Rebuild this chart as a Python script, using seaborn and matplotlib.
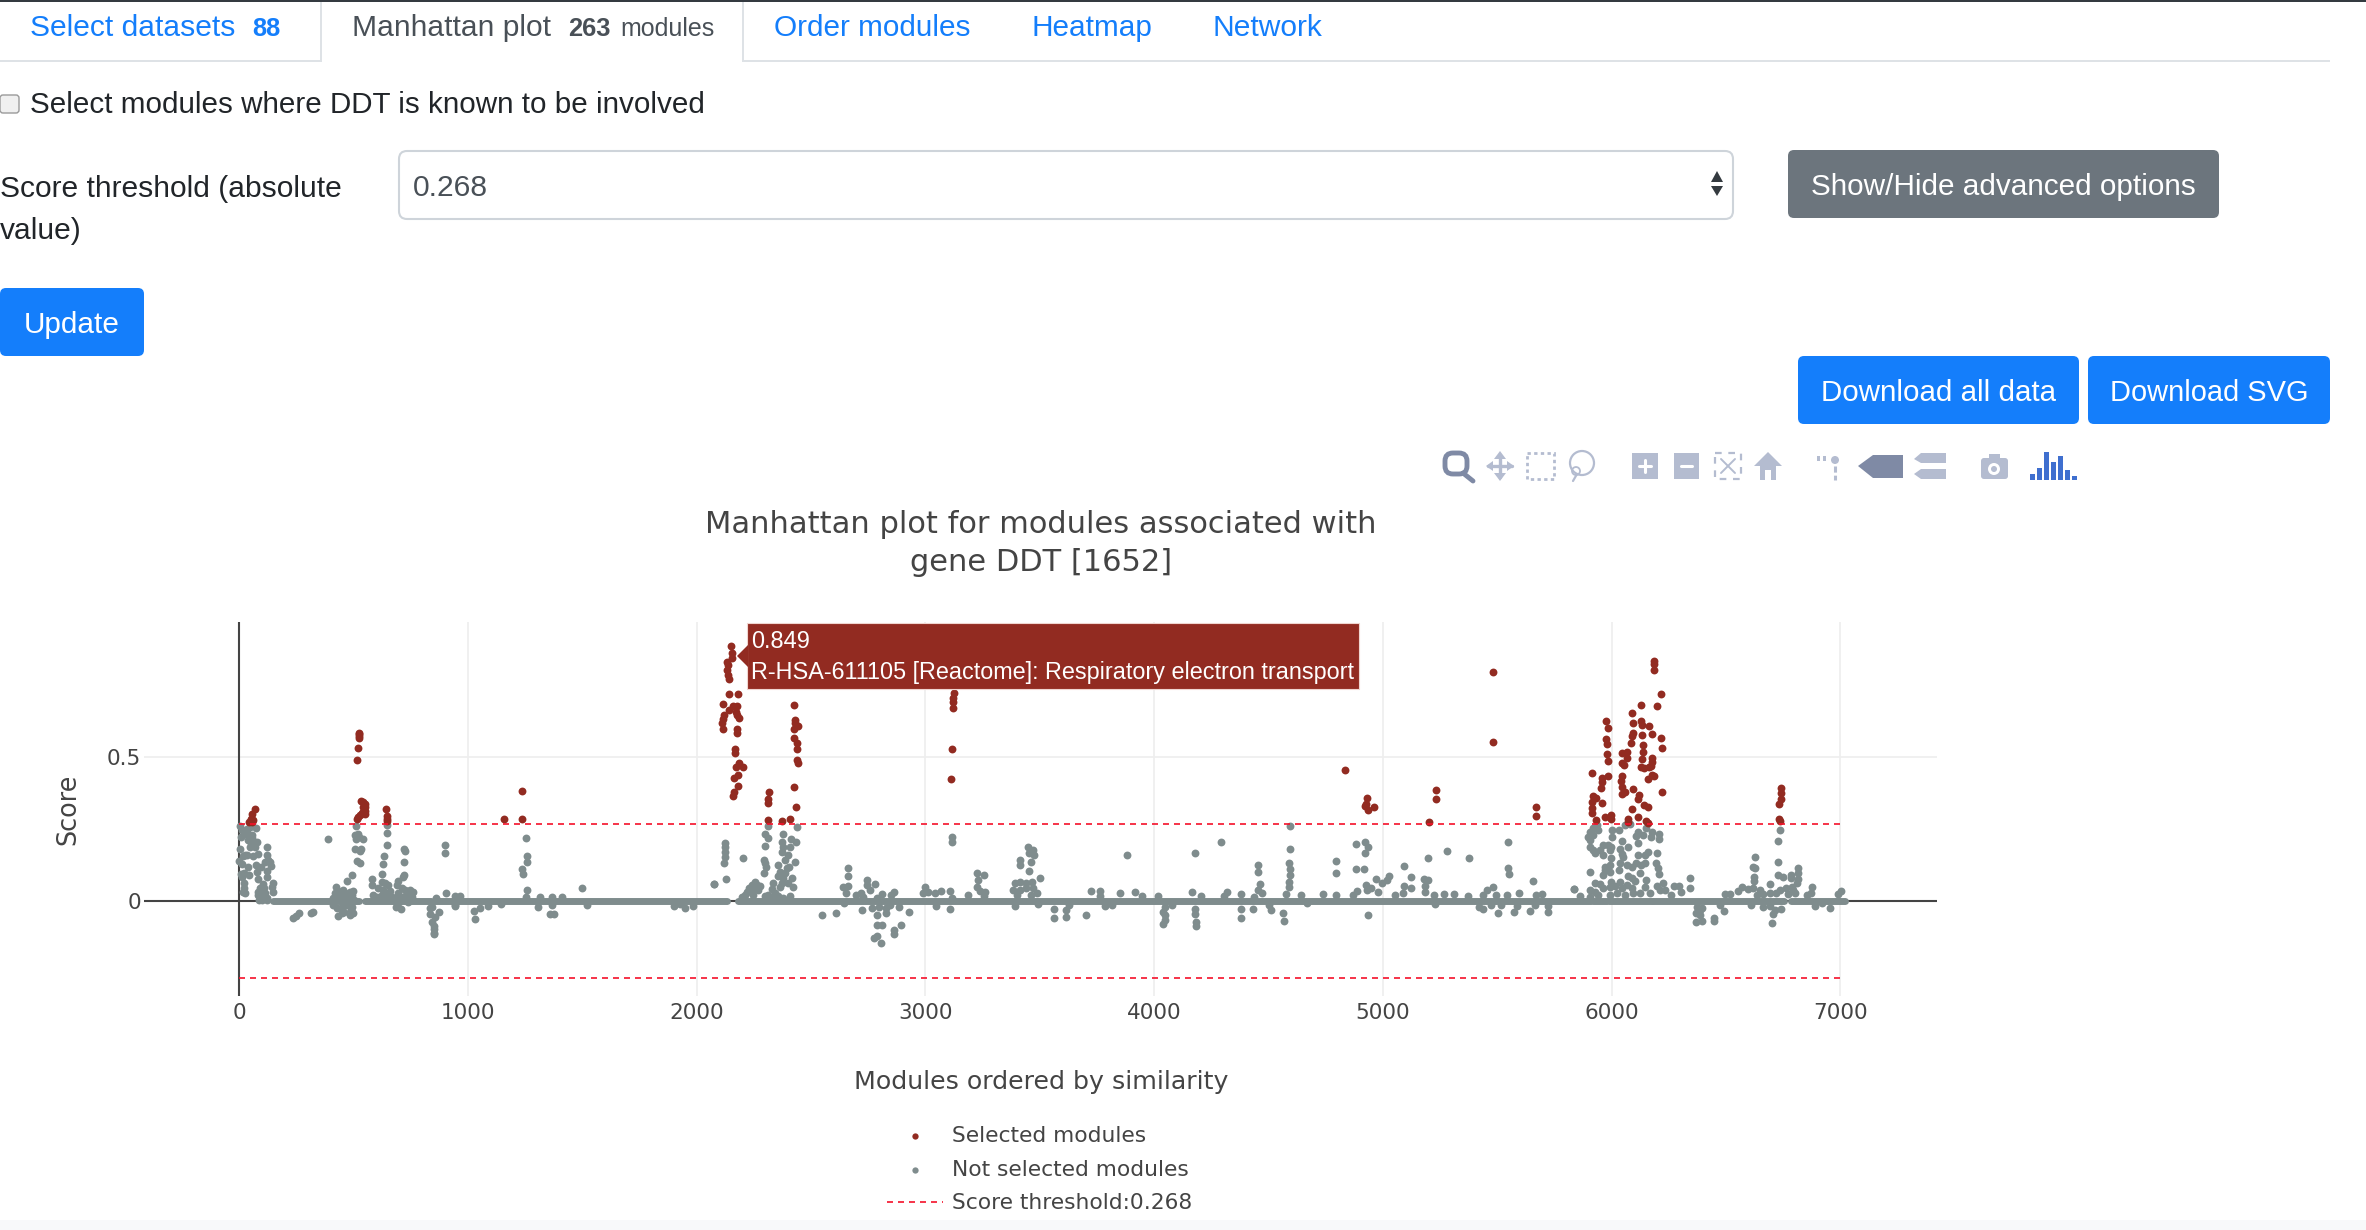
import matplotlib
matplotlib.use("Agg")
import matplotlib.pyplot as plt
from matplotlib.patches import FancyBboxPatch, Rectangle, Polygon, Circle
import seaborn as sns

# values
selected_x = [69, 58, 52, 63, 44, 58,
    523, 523, 523, 523, 519, 514, 533, 543, 551, 553, 553, 551, 543, 536, 529, 522, 514, 543,
    643, 645, 645, 647, 1159, 1236, 1236,
    2150, 2155, 2156, 2132, 2139, 2134, 2139, 2142, 2140, 2180, 2117, 2161, 2175, 2140, 2172, 2178, 2185,
    2120, 2117, 2111, 2117, 2175, 2175, 2168, 2168, 2185, 2204, 2171, 2183, 2165, 2183, 2165, 2161,
    2317, 2314, 2314, 2311, 2373, 2408, 2427, 2429, 2432, 2442, 2426, 2424, 2438, 2440, 2439, 2442, 2426, 2435,
    3125, 3123, 3123, 3123, 3117, 3113, 4834, 4932, 4926, 4920, 4934, 4961,
    5234, 5234, 5201, 5480, 5482, 5669, 5669,
    6184, 6184, 6187, 6215, 6199, 6129, 6088, 6092, 6127, 6132, 6164, 6091, 6088, 6133, 6174, 6216, 6084, 6135,
    6218, 6135, 6069, 6044, 6068, 6133, 6178, 6174, 6047, 6054, 6129, 6140, 6164, 6171, 6174, 6184, 6159, 6046,
    6040, 6046, 6091, 6059, 6046, 6119, 6116, 6222, 6140, 6159, 6087, 6072, 6072, 6116, 6152, 6159,
    5977, 5982, 5977, 5980, 5979, 5983, 5983, 5915, 5958, 5957, 5955, 5919, 5932, 5912, 5958, 5916, 5916, 5970,
    5998, 5999, 5932, 6741, 6739, 6738, 6732, 6732, 6735]
selected_y = [.320, .300, .286, .281, .274, .275,
    .584, .579, .572, .564, .532, .490, .348, .342, .335, .325, .313, .301, .310, .304, .298, .292, .283, .326,
    .319, .295, .285, .277, .284, .381, .284,
    .884, .858, .841, .829, .818, .800, .783, .768, .716, .718, .683, .677, .677, .662, .656, .645, .633,
    .645, .630, .616, .595, .596, .583, .526, .512, .477, .464, .465, .437, .428, .400, .379, .365,
    .379, .353, .341, .281, .277, .283, .681, .629, .616, .606, .596, .564, .546, .526, .489, .477, .396, .327,
    .722, .705, .690, .670, .527, .422, .454, .357, .336, .330, .315, .325,
    .385, .352, .273, .795, .552, .327, .296,
    .833, .821, .800, .718, .676, .679, .653, .616, .624, .610, .606, .584, .572, .576, .579, .564, .546, .541,
    .530, .517, .517, .512, .494, .491, .494, .483, .477, .471, .465, .460, .465, .469, .437, .435, .422, .435,
    .415, .396, .389, .379, .370, .367, .352, .377, .333, .326, .318, .286, .275, .290, .278, .269,
    .624, .601, .562, .543, .508, .487, .434, .445, .425, .411, .393, .365, .356, .344, .341, .321, .306, .293,
    .298, .286, .282, .393, .375, .352, .335, .284, .277]

other_x = [3, 15, 34, 48, 73, 41, 9, 38, 55, 77, 48, 70, 124, 3, 19, 34, 63, 82, 124, 128, 114, 135, 0, 15, 41, 73,
    96, 140, 77, 9, 23, 44, 121, 121, 12, 82, 23, 23, 19, 26, 147, 143, 147, 103, 92, 111, 85, 99, 114, 82, 92,
    106, 121, 87, 102, 122, 58, 26, 52, 26,
    237, 249, 262, 315, 325, 389, 423, 434, 456, 471, 494, 510, 507, 519, 525, 543, 511, 509, 533, 530, 517, 529,
    485, 500, 420, 441, 463, 478, 492, 412, 434, 456, 478, 504, 412, 427, 449, 471, 492, 431, 452, 460, 485, 500, 490,
    580, 581, 628, 625, 635, 647, 647, 648, 723, 726, 721, 720, 718, 696, 689, 900, 900, 903,
    624, 638, 653, 609, 631, 660, 587, 602, 624, 645, 667, 696, 711, 726, 748, 762, 740, 755, 718, 689,
    685, 708, 696, 740, 835, 842, 835, 874, 857, 845, 852, 851, 851, 852, 861, 944, 966, 944,
    946, 1027, 1032, 1052, 1088, 1147, 1256, 1257, 1257, 1239, 1241, 1261, 1256, 1306, 1314, 1369, 1369, 1361, 1378,
    1411, 1498, 1522, 1901, 1929, 1949, 1983, 2077,
    2126, 2126, 2124, 2123, 2121, 2129, 2076, 2201, 2314, 2299, 2311, 2301, 2293, 2299, 2303, 2296,
    2379, 2372, 2379, 2372, 2411, 2433, 2408, 2438, 2401, 2387, 2430, 2357, 2405, 2365, 2387, 2357, 2416, 2379, 2397,
    2372, 2333, 2401, 2420, 2365, 2328, 2255, 2241, 2266, 2277, 2231, 2251, 2219, 2270, 2241, 2197, 2212, 2248,
    2299, 2314, 2343, 2357, 2328, 2379, 2408, 2547, 2611,
    2660, 2660, 2660, 2641, 2654, 2646, 2744, 2744, 2781, 2758, 2719, 2699, 2728, 2725, 2767,
    2810, 2861, 2850, 2787, 2797, 2830, 2787, 2826, 2846, 2885, 2930, 2787, 2810, 2894, 2865, 2865, 2787, 2777, 2807,
    2998, 2992, 3012, 3041, 3070, 3109, 3115, 3045, 3109, 3115, 3115,
    3187, 3226, 3256, 3230, 3226, 3240, 3262, 3256,
    3412, 3412, 3447, 3451, 3471, 3475, 3461, 3451, 3500, 3412, 3392, 3439, 3468, 3383, 3412, 3441, 3470, 3490, 3402,
    3461, 3392, 3494, 3562, 3562, 3617, 3617, 3627, 3701, 3725, 3764, 3764, 3787, 3818, 3851, 3883, 3916, 3949,
    4018, 4047, 4037, 4047, 4047, 4037, 4080, 4164, 4178, 4178, 4178, 4185, 4183, 4207,
    4293, 4320, 4306, 4379, 4379, 4379, 4437, 4433, 4456, 4456, 4461, 4456, 4472, 4502, 4510, 4564, 4568, 4578,
    4594, 4594, 4590, 4594, 4594, 4588, 4588, 4641, 4668, 4736, 4795, 4795, 4795,
    4881, 4922, 4936, 4920, 4881, 4918, 4969, 4998, 5027, 5018, 4926, 4930, 4949, 4979, 4885, 4936, 4871,
    5092, 5121, 5092, 5121, 5086, 5051, 5179, 5199, 5183, 5183, 5199, 5281, 5378, 5222, 5265, 5310, 5228,
    5373, 5437, 5456, 5482, 5496, 5544, 5593, 5418, 5437, 5472, 5505, 5515, 5574, 5587, 5644, 5665, 5720, 5720,
    5697, 5671, 5546, 5548, 5552, 5657, 5837, 5860,
    5934, 5919, 5904, 5941, 5897, 5919, 5904, 5904, 5919, 5926, 6002, 6033, 6057, 6082, 6002, 6043, 6116, 6108, 6116,
    6138, 6152, 6174, 6171, 6207, 6207, 5963, 5985, 5999, 5948, 5963, 5992, 6038, 6073, 6047, 6113, 6145, 6157, 6199,
    5995, 6050, 6036, 6065, 5970, 5992, 6108, 6126, 6145, 6193, 6089, 6203, 6207, 6033, 5992, 5970, 5963, 5904,
    6123, 6072, 6087, 6101, 6152, 5998, 6036,
    5836, 5904, 5926, 5948, 5963, 5992, 6014, 6043, 6065, 6087, 6145, 6196, 6225, 6210, 6232, 6272, 6295, 6301,
    6342, 6342, 6261, 5904, 5941, 6021, 6057, 6123, 6167, 5992, 5926, 6094,
    6735, 6729, 6728, 6728, 6750, 6782, 6783, 6815, 6815, 6815, 6808, 6786, 6764, 6793, 6772, 6801, 6735, 6694, 6694,
    6720, 6662, 6627, 6619, 6627, 6623, 6623, 6619, 6648, 6636, 6597, 6568, 6553, 6517, 6495,
    6876, 6873, 6855, 6888, 6920, 6954, 7002, 6990,
    6371, 6385, 6396, 6368, 6388, 6368, 6396, 6448, 6448, 6492, 6473, 6608, 6662, 6691, 6713, 6703, 6742, 6700]
other_y = [.260, .246, .248, .258, .254, .234, .221, .211, .217, .206, .188, .188, .188, .182, .156, .161, .157, .163,
    .159, .144, .137, .136, .139, .130, .117, .124,
    .119, .121, .102, .094, .098, .090, .105, .084, .082, .075, .061, .044, .032, .027, .061, .047, .031, .059, .044,
    .044, .032, .029, .027, .021, .015,
    .015, .009, .003, .003, .002, .229, .234, .202, .159,
    -.057, -.051, -.043, -.040, -.038, .215, .050, .036, .040, .070, .092, .260, .229, .232, .223, .214, .214, .182,
    .180, .173, .139, .131,
    .032, .036, .027, .021, .027, .015, .021, .009, .009, .009, .003, .003, -.014, -.025, -.020, -.014, -.020, -.052,
    -.040, -.037, -.049, -.040, -.031,
    .077, .054, .130, .094, .155, .194, .236, .262, .182, .174, .135, .090, .082, .070, .055, .193, .167, .029,
    .067, .061, .055, .044, .038, .036, .021, .015, .021, .021, .015, .027, .044, .038, .038, .032, .021, .015, .015, .015,
    -.020, -.029, -.006, -.002, -.025, -.020, -.046, -.039, -.054, -.072, -.087, -.098, -.110, -.115, .009, .017, .017, -.014,
    -.016, -.035, -.061, -.025, -.016, -.009, .219, .155, .135, .112, .094, .038, .015, -.021, .015, .015, -.014, -.045, -.045,
    .015, .044, -.012, -.016, -.010, -.025, -.016, .059,
    .202, .188, .171, .154, .133, .077, .059, .150, .260, .234, .217, .191, .144, .131, .117, .098,
    .234, .206, .188, .171, .214, .206, .188, .258, .159, .142, .134, .125, .117, .102, .096, .087, .079, .079, .113,
    .061, .061, .061, .047, .050, .042, .065, .055, .055, .052, .044, .044, .032, .040, .032, .015, .021, .021,
    .018, .021, .027, .018, .012, .012, .018, -.047, -.040,
    .113, .088, .053, .050, .027, -.008, .073, .055, .058, .038, .027, .021, .015, -.031, -.025,
    .023, .032, .021, .009, -.020, -.025, -.049, -.043, -.014, -.020, -.039, -.083, -.083, -.083, -.100, -.115, -.121, -.127, -.147,
    .050, .027, .032, .029, .036, .036, .009, -.017, -.029, .223, .206,
    .021, .098, .092, .073, .050, .036, .032, .017,
    .142, .125, .188, .165, .177, .159, .136, .105, .081, .067, .061, .061, .067, .038, .038, .044, .044, .027, .021,
    .021, -.017, -.010, -.029, -.057, -.031, -.054, -.014, -.047, .036, .036, .017, -.016, -.014, .027, .159, .032, .017,
    .018, -.020, -.037, -.049, -.066, -.080, -.014, .032, .165, -.029, -.046, -.072, -.087, .018,
    .203, .032, .017, .024, -.029, -.058, .015, -.029, .125, .099, .059, .038, .027, -.014, -.031, -.043, -.068, .023,
    .260, .180, .131, .110, .090, .067, .050, .021, -.008, .024, .140, .096, .021,
    .198, .206, .186, .166, .110, .110, .075, .061, .087, .073, .055, .038, .044, .032, .036, -.050, .021,
    .121, .084, .052, .046, .027, .021, .075, .073, .052, .032, .149, .174, .149, .021, .023, .023, -.010,
    .017, .021, .038, .047, .021, .021, .027, -.020, -.028, -.014, -.043, -.014, -.039, -.016, -.033, -.014, -.037, -.016,
    .023, .021, .203, .113, .094, .068, .042, .017,
    .263, .252, .240, .246, .223, .229, .211, .188, .177, .165, .246, .246, .263, .267, .223, .209, .240, .225, .202,
    .229, .252, .240, .223, .234, .214, .194, .194, .188, .177, .159, .177, .179, .188, .163, .159, .159, .171, .165,
    .148, .154, .131, .125, .119, .125, .131, .125, .131, .131, .117, .113, .094, .107, .102, .107, .090, .099,
    .098, .088, .079, .070, .073, .067, .067,
    .042, .038, .061, .059, .044, .047, .052, .044, .055, .044, .047, .052, .061, .038, .038, .053, .053, .032,
    .081, .044, .021, .015, .021, .027, .021, .027, .027, .021, .032, .029,
    .246, .209, .135, .092, .084, .090, .079, .113, .096, .076, .061, .050, .044, .038, .024, .027, .040, .058, .029,
    .029, .024, .151, .119, .116, .082, .069, .044, .040, .021, .042, .047, .036, .024, .024,
    .047, .029, .021, -.017, -.008, -.024, .036, .024,
    -.022, -.031, -.025, -.043, -.049, -.073, -.068, -.057, -.069, -.036, -.014, -.014, -.020, -.017, -.031, -.046, -.029, -.077]

# the unbroken rows of modules scoring zero: where each run starts and stops
zero_starts = [150, 550, 851, 2181, 5920, 5990, 6182, 6785]
zero_ends = [525, 838, 2133, 5910, 5980, 6175, 6755, 7020]

threshold = 0.268
threshold_end = 7008
x_ticks = [0, 1000, 2000, 3000, 4000, 5000, 6000, 7000]
y_ticks = [0, 0.5]
y_tick_labels = ["0", "0.5"]

dark_red = "#922B21"
grey = "#7F8C8D"
blue = "#147EFB"
W, H = 2366, 1230


def px(size):
    return size * 0.72


def button(ax, x0, y0, x1, y1, text, color, fontsize=29.8):
    ax.add_patch(FancyBboxPatch((x0 + 6, y0 + 6), x1 - x0 - 12, y1 - y0 - 12,
                                boxstyle="round,pad=6,rounding_size=6", fc=color, ec="none"))
    ax.text((x0 + x1) / 2, (y0 + y1) / 2 + 3, text, color="white", ha="center", va="center",
            fontsize=px(fontsize), family=ui_font)


def bar(ax, x, y, w, h, color):
    ax.add_patch(Rectangle((x, y), w, h, fc=color, ec="none"))


sns.set_theme(style="white")
plt.rcParams["font.family"] = ["DejaVu Sans"]
ui_font = ["Liberation Sans"]

fig = plt.figure(figsize=(W / 100, H / 100), dpi=100, facecolor="white")

#the chart itself
left, right, top, bottom = 144, 1937.5, 622, 996
ax = fig.add_axes([left / W, 1 - bottom / H, (right - left) / W, (bottom - top) / H])
ax.set_xlim(-415, 7424)
ax.set_ylim(-0.329, 0.967)
for spine in ax.spines.values():
    spine.set_visible(False)
ax.set_xticks(x_ticks)
ax.set_yticks(y_ticks)
ax.set_yticklabels(y_tick_labels)
ax.tick_params(length=0, labelsize=px(21.5), colors="#444444")
ax.tick_params(axis="x", pad=5)
ax.tick_params(axis="y", pad=2)
ax.grid(color="#EEEEEE", linewidth=1.2)
ax.set_axisbelow(True)
ax.axhline(0, color="#444444", linewidth=1.5, zorder=1)
ax.axvline(0, color="#444444", linewidth=1.5, zorder=1)

ax.hlines([0] * len(zero_starts), zero_starts, zero_ends, color=grey, linewidth=5,
          capstyle="round", zorder=2)
sns.scatterplot(x=selected_x, y=selected_y, color=dark_red, s=32, linewidth=0, ax=ax,
                label="Selected modules", zorder=4)
sns.scatterplot(x=other_x, y=other_y, color=grey, s=32, linewidth=0, ax=ax,
                label="Not selected modules", zorder=3)
ax.plot([0, threshold_end], [threshold, threshold], color="#F5112A", linewidth=1.2,
        dashes=(3.6, 3.0), label="Score threshold:0.268", zorder=5)
ax.plot([0, threshold_end], [-threshold, -threshold], color="#F5112A", linewidth=1.2,
        dashes=(3.6, 3.0), zorder=5)

ax.set_title("Manhattan plot for modules associated with\ngene DDT [1652]", fontsize=px(30.5),
             color="#444444", y=1.188, va="center", linespacing=1.42)
ax.set_xlabel("Modules ordered by similarity", fontsize=px(25.2), color="#444444")
ax.xaxis.set_label_coords(0.5, (bottom - 1082) / (bottom - top))
ax.xaxis.label.set_va("center")
ax.set_ylabel("Score", fontsize=px(25.5), color="#444444")
ax.yaxis.set_label_coords((81 - left) / (right - left), 0.5)

ax.legend(loc="upper left", bbox_to_anchor=(887 / W, 1 - 1126 / H), bbox_transform=fig.transFigure,
          frameon=False, fontsize=px(21.8), labelcolor="#444444", handlelength=2.55, handletextpad=0.41,
          labelspacing=0.63, borderpad=0, borderaxespad=0, markerscale=0.8)

#page around the chart, drawn in pixel coordinates
ui = fig.add_axes([0, 0, 1, 1], zorder=5)
ui.set_xlim(0, W)
ui.set_ylim(H, 0)
ui.axis("off")

bar(ui, 0, 0, W, 2, "#343A40")
bar(ui, 0, 1220, W, 10, "#F8F9FA")
bar(ui, 0, 60, 2330, 2, "#DEE2E6")
bar(ui, 321, 2, 421, 60, "white")
bar(ui, 320, 2, 2, 60, "#DEE2E6")
bar(ui, 742, 2, 2, 60, "#DEE2E6")

tabs = [(30, "Select datasets", 30, blue, "normal"), (252, "88", 25.5, blue, "bold"),
        (352, "Manhattan plot", 30, "#495057", "normal"), (568, "263", 25.5, "#495057", "bold"),
        (620, "modules", 25, "#495057", "normal"), (774, "Order modules", 29.8, blue, "normal"),
        (1032, "Heatmap", 29.8, blue, "normal"), (1213, "Network", 30, blue, "normal")]
for x, label, size, color, weight in tabs:
    ui.text(x, 36, label, color=color, fontsize=px(size), fontweight=weight, family=ui_font, va="baseline")

ui.add_patch(FancyBboxPatch((2, 97), 15, 14, boxstyle="round,pad=2,rounding_size=3", fc="#F0F0F0", ec="#9A9A9A", lw=1))
ui.text(30, 105, "Select modules where DDT is known to be involved", color="#212529", fontsize=px(29.6),
        family=ui_font, va="center")
ui.text(0, 189, "Score threshold (absolute", color="#212529", fontsize=px(30), family=ui_font, va="center")
ui.text(0, 231, "value)", color="#212529", fontsize=px(30), family=ui_font, va="center")

ui.add_patch(FancyBboxPatch((405, 157), 1322, 56, boxstyle="round,pad=6,rounding_size=8", fc="white", ec="#CED4DA", lw=1.5))
ui.text(413, 188, "0.268", color="#495057", fontsize=px(30), family=ui_font, va="center")
ui.add_patch(Polygon([(1711, 182), (1723, 182), (1717, 171)], fc="#343A40", ec="none"))
ui.add_patch(Polygon([(1711, 186), (1723, 186), (1717, 196)], fc="#343A40", ec="none"))

button(ui, 1788, 150, 2219, 218, "Show/Hide advanced options", "#6C757D")
button(ui, 0, 288, 144, 356, "Update", blue)
button(ui, 1798, 356, 2079, 424, "Download all data", blue, fontsize=29.5)
button(ui, 2088, 356, 2330, 424, "Download SVG", blue, fontsize=29)

#modebar icons
active = "#7F8AA5"
idle = "#B4BCD0"
ui.add_patch(FancyBboxPatch((1447, 455), 18, 17, boxstyle="round,pad=2,rounding_size=8", fc="white", ec=active, lw=3.5))
ui.plot([1463, 1473], [473, 481], color=active, lw=3.5)
ui.plot([1488, 1512], [466, 466], color=idle, lw=2.4)
ui.plot([1500, 1500], [455, 477], color=idle, lw=2.4)
ui.add_patch(Polygon([(1500, 451), (1494, 459), (1506, 459)], fc=idle, ec="none"))
ui.add_patch(Polygon([(1500, 481), (1494, 473), (1506, 473)], fc=idle, ec="none"))
ui.add_patch(Polygon([(1486, 466), (1493, 461), (1493, 471)], fc=idle, ec="none"))
ui.add_patch(Polygon([(1514, 466), (1507, 461), (1507, 471)], fc=idle, ec="none"))
ui.add_patch(Rectangle((1527, 453), 27, 26, fc="none", ec=idle, lw=2, ls=(0, (1.2, 1.2))))
ui.add_patch(Circle((1582, 463), 12, fc="none", ec=idle, lw=1.6))
ui.add_patch(Circle((1576, 471), 4, fc="none", ec=idle, lw=1.3))
ui.plot([1577, 1573], [474, 481], color=idle, lw=1.6)
bar(ui, 1632, 453, 26, 26, idle)
ui.plot([1639, 1651], [466, 466], color="white", lw=2.2)
ui.plot([1645, 1645], [460, 472], color="white", lw=2.2)
bar(ui, 1674, 453, 25, 26, idle)
ui.plot([1681, 1692], [466, 466], color="white", lw=2.2)
ui.add_patch(Rectangle((1715, 453), 26, 26, fc="none", ec=idle, lw=1.6, ls=(0, (3, 3))))
ui.plot([1721, 1735], [459, 473], color=idle, lw=1.4)
ui.plot([1721, 1735], [473, 459], color=idle, lw=1.4)
ui.add_patch(Polygon([(1754, 466), (1768, 452), (1782, 466), (1776, 466), (1776, 480), (1771, 480), (1771, 470),
                      (1765, 470), (1765, 480), (1760, 480), (1760, 466)], fc=idle, ec="none"))
bar(ui, 1817, 456, 3, 5, idle)
bar(ui, 1823, 456, 3, 5, idle)
ui.add_patch(Circle((1835, 460), 4, fc=idle, ec="none"))
ui.plot([1835, 1835], [466, 480], color=idle, lw=2.2, ls=(0, (2, 1)))
ui.add_patch(Polygon([(1858, 466), (1873, 455), (1903, 455), (1903, 478), (1873, 478)], fc=active, ec="none"))
ui.add_patch(Polygon([(1914, 459), (1921, 453), (1946, 453), (1946, 463), (1921, 463)], fc=idle, ec="none"))
ui.add_patch(Polygon([(1914, 474), (1921, 469), (1946, 469), (1946, 479), (1921, 479)], fc=idle, ec="none"))
ui.add_patch(FancyBboxPatch((1982, 459), 25, 19, boxstyle="round,pad=1,rounding_size=3", fc=idle, ec="none"))
bar(ui, 1989, 454, 11, 5, idle)
ui.add_patch(Circle((1994, 469), 6, fc="white", ec="none"))
ui.add_patch(Circle((1994, 469), 3, fc=idle, ec="none"))
for x, h in zip([2030, 2037, 2044, 2051, 2058, 2065, 2072], [6, 12, 28, 18, 24, 10, 4]):
    bar(ui, x, 480 - h, 5, h, "#3F6FCF")

#hover label
tip = dark_red
ui.add_patch(Rectangle((747, 623), 612, 66, fc=tip, ec="#F0D5D0", lw=0.8))
ui.add_patch(Polygon([(737, 656), (748, 645), (748, 667)], fc=tip, ec="none"))
ui.text(751, 641, "0.849", color="white", fontsize=px(23.5), family=ui_font, va="center")
ui.text(751, 672, "R-HSA-611105 [Reactome]: Respiratory electron transport", color="white", fontsize=px(23.4),
        family=ui_font, va="center")

plt.savefig("out.png", dpi=100)

# arrays have to stay paired
assert len(selected_x) == len(selected_y) and len(other_x) == len(other_y)
